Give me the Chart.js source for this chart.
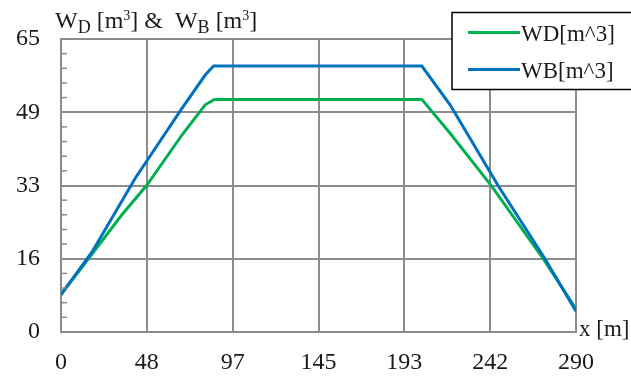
<!DOCTYPE html>
<html>
<head>
<meta charset="utf-8">
<script src="https://cdn.jsdelivr.net/npm/chart.js@4.4.1/dist/chart.umd.min.js"></script>
<style>
  html, body { margin: 0; padding: 0; background: #ffffff; }
  #wrap { width: 631px; height: 377px; position: relative; }
</style>
</head>
<body>
<div id="wrap"><canvas id="c"></canvas></div>
<script>
// Axis ticks
const xTickLabels = ['0', '48', '97', '145', '193', '242', '290'];
const yTickLabels = ['0', '16', '33', '49', '65'];
const xMax = 290;
const yMax = 65;

// Series
const seriesNames = ['WD[m^3]', 'WB[m^3]'];
const seriesColors = ['#00b050', '#0070c0'];

const wdX = [0, 16.5, 34.3, 48.4, 68.1, 81.2, 86.4, 203.2, 219.1, 242.6, 271.6, 290];
const wdY = [8.3, 16.8, 26.0, 32.6, 43.7, 50.4, 51.6, 51.6, 44.1, 32.3, 16.2, 5.1];

const wbX = [0, 17.4, 41.8, 48.4, 68.1, 81.2, 85.9, 203.2, 219.1, 246.1, 272.6, 290];
const wbY = [8.3, 17.7, 34.1, 38.0, 49.6, 57.0, 59.0, 59.0, 50.4, 32.5, 16.2, 4.6];

const FONT = '"Liberation Serif", "Times New Roman", serif';
const GRID = '#8c8c8c';

function points(xs, ys) {
  return xs.map((x, i) => ({ x: x, y: ys[i] }));
}

// Title, axis caption, minor ticks and the boxed legend
const decor = {
  id: 'decor',
  afterDraw(chart) {
    const ctx = chart.ctx;
    const ys = chart.scales.y;
    const area = chart.chartArea;
    ctx.save();

    // minor ticks on the left axis
    ctx.strokeStyle = GRID;
    ctx.lineWidth = 1.5;
    const step = yMax / (yTickLabels.length - 1);
    for (let i = 0; i < yTickLabels.length - 1; i++) {
      for (let k = 1; k < 5; k++) {
        const py = ys.getPixelForValue(i * step + k * step / 5);
        ctx.beginPath();
        ctx.moveTo(area.left, py);
        ctx.lineTo(area.left + 6, py);
        ctx.stroke();
      }
    }

    // y title with subscripts and superscripts
    ctx.fillStyle = '#1a1a1a';
    ctx.textBaseline = 'alphabetic';
    ctx.textAlign = 'left';
    const parts = [
      { t: 'W', s: 24, dy: 0 },
      { t: 'D', s: 18, dy: 5 },
      { t: ' [m', s: 24, dy: 0 },
      { t: '3', s: 14, dy: -8 },
      { t: '] &  W', s: 24, dy: 0 },
      { t: 'B', s: 18, dy: 5 },
      { t: ' [m', s: 24, dy: 0 },
      { t: '3', s: 14, dy: -8 },
      { t: ']', s: 24, dy: 0 }
    ];
    let tx = 55;
    const base = 28;
    parts.forEach(p => {
      ctx.font = p.s + 'px ' + FONT;
      ctx.fillText(p.t, tx, base + p.dy);
      tx += ctx.measureText(p.t).width;
    });

    // x axis caption
    ctx.font = '23px ' + FONT;
    ctx.fillText('x [m]', area.right + 3, area.bottom + 4);

    // legend box
    const lx = 452, ly = 12.5, lw = 200, lh = 77;
    ctx.fillStyle = '#ffffff';
    ctx.fillRect(lx, ly, lw, lh);
    ctx.strokeStyle = '#000000';
    ctx.lineWidth = 1.5;
    ctx.strokeRect(lx, ly, lw, lh);
    chart.data.datasets.forEach((ds, i) => {
      const cy = 32.5 + i * 37;
      ctx.strokeStyle = ds.borderColor;
      ctx.lineWidth = 3;
      ctx.beginPath();
      ctx.moveTo(468, cy);
      ctx.lineTo(520, cy);
      ctx.stroke();
      ctx.fillStyle = '#1a1a1a';
      ctx.font = '23px ' + FONT;
      ctx.fillText(ds.label, 521, cy + 8);
    });

    ctx.restore();
  }
};

new Chart(document.getElementById('c'), {
  type: 'line',
  data: {
    datasets: [
      {
        label: seriesNames[0],
        data: points(wdX, wdY),
        borderColor: seriesColors[0],
        borderWidth: 3,
        pointRadius: 0,
        tension: 0,
        order: 1
      },
      {
        label: seriesNames[1],
        data: points(wbX, wbY),
        borderColor: seriesColors[1],
        borderWidth: 3,
        pointRadius: 0,
        tension: 0,
        order: 0
      }
    ]
  },
  options: {
    responsive: true,
    maintainAspectRatio: false,
    animation: false,
    devicePixelRatio: 1,
    layout: { padding: { top: 39, right: 55, left: 0, bottom: 0 } },
    plugins: {
      legend: { display: false },
      tooltip: { enabled: false },
      title: { display: false }
    },
    scales: {
      x: {
        type: 'linear',
        min: 0,
        max: xMax,
        afterFit: s => { s.height = 45; },
        afterBuildTicks: s => {
          s.ticks = xTickLabels.map((_, i) => ({ value: i * xMax / (xTickLabels.length - 1) }));
        },
        ticks: {
          callback: (v, i) => xTickLabels[i],
          font: { family: FONT, size: 24 },
          color: '#1a1a1a',
          padding: 16,
          maxRotation: 0,
          autoSkip: false
        },
        grid: { color: GRID, lineWidth: 2, drawTicks: false },
        border: { color: GRID, width: 2 }
      },
      y: {
        type: 'linear',
        min: 0,
        max: yMax,
        afterFit: s => { s.width = 61; },
        afterBuildTicks: s => {
          s.ticks = yTickLabels.map((_, i) => ({ value: i * yMax / (yTickLabels.length - 1) }));
        },
        ticks: {
          callback: (v, i) => yTickLabels[i],
          font: { family: FONT, size: 24 },
          color: '#1a1a1a',
          padding: 21,
          autoSkip: false
        },
        grid: { color: GRID, lineWidth: 2, drawTicks: false },
        border: { color: GRID, width: 2 }
      }
    }
  },
  plugins: [decor]
});
</script>
</body>
</html>
